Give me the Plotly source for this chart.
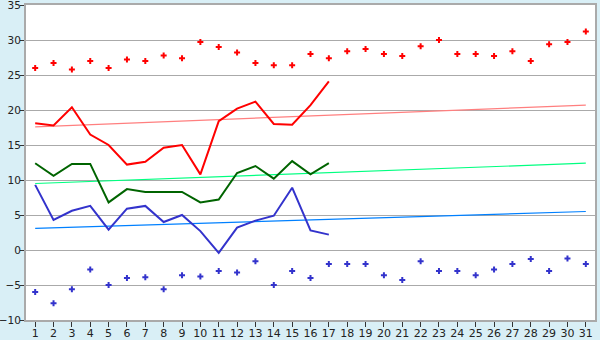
import plotly.graph_objects as go

days = list(range(1, 32))
max_pts = [26.0, 26.7, 25.8, 27.0, 26.0, 27.2, 27.0, 27.8, 27.4, 29.7,
           29.0, 28.2, 26.7, 26.4, 26.4, 28.0, 27.4, 28.4, 28.7, 28.0,
           27.7, 29.1, 30.0, 28.0, 28.0, 27.7, 28.4, 27.0, 29.4, 29.7, 31.2]
min_pts = [-6.0, -7.6, -5.6, -2.8, -5.0, -4.0, -3.9, -5.6, -3.6, -3.8,
           -3.0, -3.2, -1.6, -5.0, -3.0, -4.0, -2.0, -2.0, -2.0, -3.6,
           -4.3, -1.6, -3.0, -3.0, -3.6, -2.8, -2.0, -1.3, -3.0, -1.2, -2.0]
line_days = list(range(1, 18))
red_line = [18.1, 17.8, 20.4, 16.5, 15.0, 12.2, 12.6, 14.6, 15.0, 10.8,
            18.4, 20.2, 21.2, 18.0, 17.9, 20.7, 24.1]
green_line = [12.4, 10.6, 12.3, 12.3, 6.8, 8.7, 8.3, 8.3, 8.3, 6.8,
              7.2, 11.0, 12.0, 10.2, 12.7, 10.8, 12.4]
blue_line = [9.3, 4.3, 5.6, 6.3, 2.9, 5.9, 6.3, 4.0, 5.0, 2.7,
             -0.4, 3.2, 4.2, 4.9, 8.9, 2.8, 2.2]
trend_days = [1, 31]
red_trend = [17.6, 20.7]
green_trend = [9.5, 12.4]
blue_trend = [3.1, 5.5]
y_ticks = [-10, -5, 0, 5, 10, 15, 20, 25, 30, 35]

fig = go.Figure()
fig.add_trace(go.Scatter(x=trend_days, y=red_trend, mode="lines",
                         line=dict(color="#ff7f7f", width=1.2)))
fig.add_trace(go.Scatter(x=trend_days, y=green_trend, mode="lines",
                         line=dict(color="#00ff80", width=1.2)))
fig.add_trace(go.Scatter(x=trend_days, y=blue_trend, mode="lines",
                         line=dict(color="#0080ff", width=1.2)))
fig.add_trace(go.Scatter(x=line_days, y=red_line, mode="lines",
                         line=dict(color="#ff0000", width=2)))
fig.add_trace(go.Scatter(x=line_days, y=green_line, mode="lines",
                         line=dict(color="#006400", width=2)))
fig.add_trace(go.Scatter(x=line_days, y=blue_line, mode="lines",
                         line=dict(color="#3333cc", width=2)))
fig.add_trace(go.Scatter(x=days, y=max_pts, mode="markers",
                         marker=dict(symbol="cross", size=5, color="#ff0000",
                                     line=dict(width=0))))
fig.add_trace(go.Scatter(x=days, y=min_pts, mode="markers",
                         marker=dict(symbol="cross", size=5, color="#3333cc",
                                     line=dict(width=0))))

fig.update_layout(
    width=600, height=340,
    margin=dict(l=26, r=5, t=5, b=20),
    paper_bgcolor="#d9eff6",
    plot_bgcolor="#ffffff",
    showlegend=False,
    font=dict(family="DejaVu Sans", size=11, color="#222222"),
)
fig.update_xaxes(
    range=[0.5, 31.5], tickmode="array", tickvals=days,
    ticktext=[str(d) for d in days],
    showgrid=False, zeroline=False, automargin=False,
    ticks="outside", ticklen=5, tickcolor="#333333",
    ticklabelstandoff=-3, ticklabeloverflow="allow",
    showline=True, linecolor="#aaaaaa", linewidth=2, mirror=True,
    fixedrange=True,
)
fig.update_yaxes(
    range=[-10, 35], tickmode="array", tickvals=y_ticks,
    showgrid=True, gridcolor="#aaaaaa", gridwidth=1, zeroline=False,
    automargin=False, ticklabeloverflow="allow", ticklabelstandoff=-3,
    tickfont=dict(size=10.5),
    ticks="outside", ticklen=4, tickcolor="#333333",
    showline=True, linecolor="#aaaaaa", linewidth=2, mirror=True,
    fixedrange=True,
)

fig.write_html("out.html")
